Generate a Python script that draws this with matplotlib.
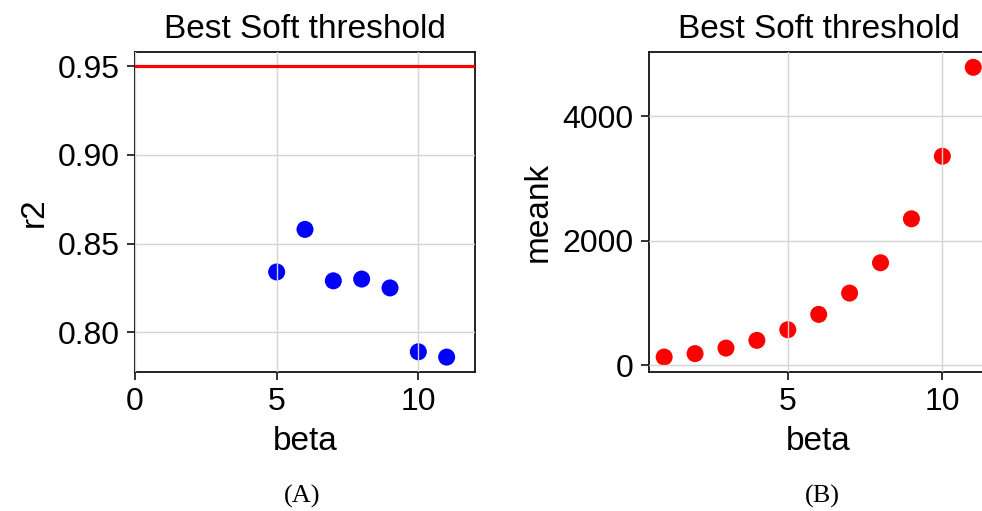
import matplotlib
matplotlib.use('Agg')
import matplotlib.pyplot as plt

plt.rcParams['font.family'] = ['Liberation Sans', 'DejaVu Sans']

# soft threshold data
beta_r2 = [5, 6, 7, 8, 9, 10, 11]
r2 = [0.834, 0.858, 0.829, 0.830, 0.825, 0.789, 0.786]
r2_cut = 0.95

beta_k = [1, 2, 3, 4, 5, 6, 7, 8, 9, 10, 11]
meank = [133, 188, 277, 401, 572, 818, 1160, 1647, 2353, 3357, 4785]

fig = plt.figure(figsize=(9.82, 5.11), dpi=100)
W, H = 982, 511

def make_ax(left):
    ax = fig.add_axes([left / W, 1 - 372 / H, 340 / W, 320 / H])
    ax.grid(True, color='#d4d4d4', linewidth=1.0, zorder=3)
    ax.set_axisbelow(False)
    for s in ax.spines.values():
        s.set_linewidth(1.3)
        s.set_color('#111111')
    ax.tick_params(labelsize=23, length=6, width=1.2, pad=5, direction='out',
                   color='#111111')
    return ax

# (A) r2 vs beta
ax1 = make_ax(135)
ax1.scatter(beta_r2, r2, s=150, color='blue', edgecolors='none', zorder=2)
ax1.axhline(r2_cut, color='red', linewidth=2.3, zorder=4)
ax1.set_xlim(0, 12)
ax1.set_ylim(0.7776, 0.958)
ax1.set_xticks([0, 5, 10])
ax1.set_yticks([0.80, 0.85, 0.90, 0.95])
ax1.set_yticklabels(['0.80', '0.85', '0.90', '0.95'])
ax1.set_title('Best Soft threshold', fontsize=24, pad=10)
ax1.set_xlabel('beta', fontsize=24, labelpad=6)
ax1.set_ylabel('r2', fontsize=24, labelpad=6)

# (B) meank vs beta
ax2 = make_ax(648.7)
ax2.scatter(beta_k, meank, s=150, color='red', edgecolors='none', zorder=2)
ax2.set_xlim(0.5, 11.5)
ax2.set_ylim(-107, 5031)
ax2.set_xticks([5, 10])
ax2.set_yticks([0, 2000, 4000])
ax2.set_title('Best Soft threshold', fontsize=24, pad=10)
ax2.set_xlabel('beta', fontsize=24, labelpad=6)
ax2.set_ylabel('meank', fontsize=24, labelpad=6)

fig.text(302 / W, 1 - 496 / H, '(A)', family=['Liberation Serif', 'DejaVu Serif'],
         fontsize=19, ha='center', va='center')
fig.text(822 / W, 1 - 496 / H, '(B)', family=['Liberation Serif', 'DejaVu Serif'],
         fontsize=19, ha='center', va='center')

fig.savefig('out.png', dpi=100)
